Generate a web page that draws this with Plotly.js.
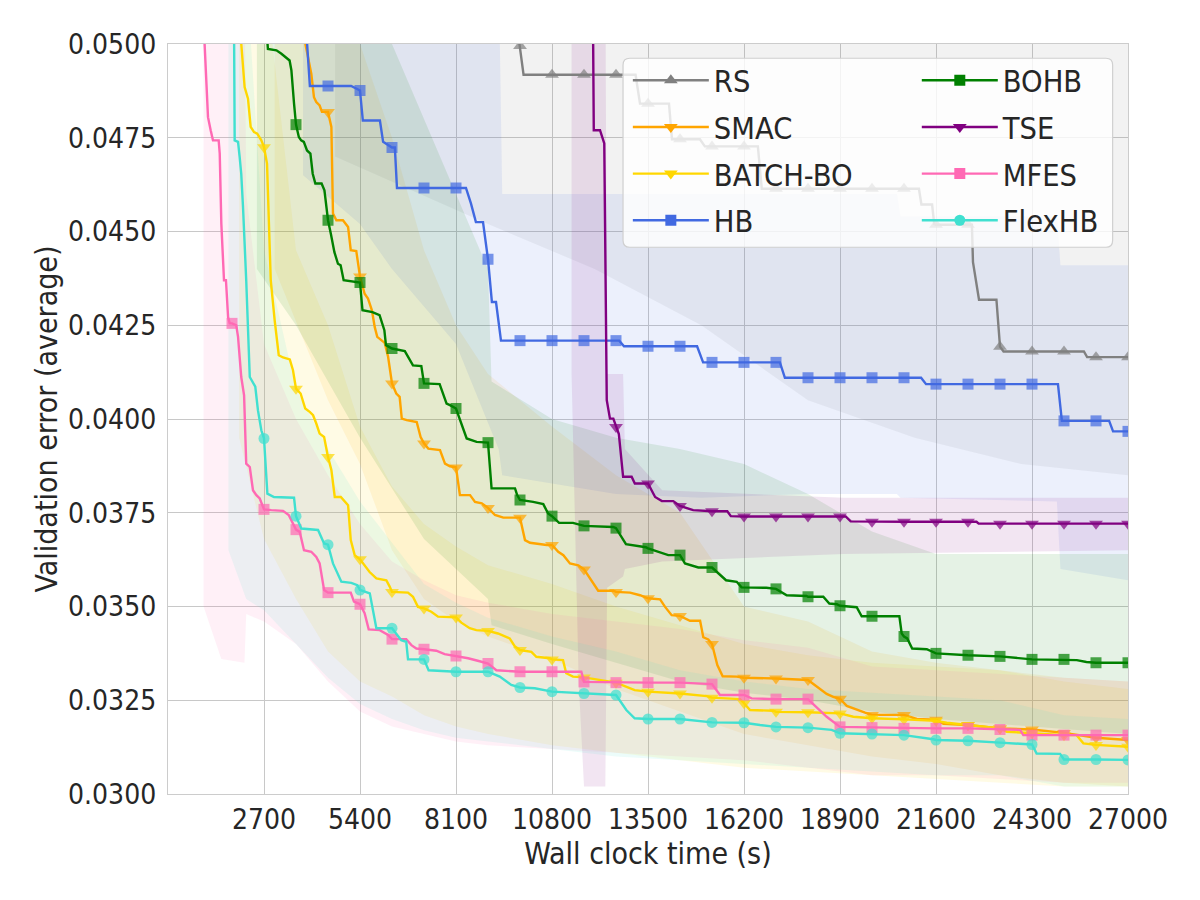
<!DOCTYPE html>
<html>
<head>
<meta charset="utf-8">
<script src="https://cdn.plot.ly/plotly-3.0.1.min.js"></script>
<style>html,body{margin:0;padding:0;background:#fff}#chart{width:1200px;height:900px}</style>
</head>
<body>
<div id="chart"></div>
<script>
// ---------- data (time in s, validation error) ----------
const xTickVals = [2700, 5400, 8100, 10800, 13500, 16200, 18900, 21600, 24300, 27000];
const yTickVals = [0.0300, 0.0325, 0.0350, 0.0375, 0.0400, 0.0425, 0.0450, 0.0475, 0.0500];
const methodNames = ['RS', 'SMAC', 'BATCH-BO', 'HB', 'BOHB', 'TSE', 'MFES', 'FlexHB'];
const markEvery = 900;

const rsCurve = [[9800,0.0506],[9900,0.04995],[10000,0.04918],[10800,0.04918],[11700,0.04918],[12600,0.04918],[13150,0.04918],[13275,0.04841],[13500,0.04841],[14090,0.04841],[14175,0.04746],[14400,0.04746],[14960,0.04746],[15100,0.04727],[15300,0.04727],[16200,0.04727],[16590,0.04727],[16700,0.04614],[17100,0.04614],[18000,0.04614],[18900,0.04614],[19800,0.04614],[20700,0.04614],[21120,0.04614],[21190,0.04572],[21490,0.04572],[21550,0.04520],[21600,0.04518],[22500,0.04518],[22610,0.04518],[22640,0.04418],[22810,0.04318],[23300,0.04318],[23400,0.04193],[23500,0.04180],[24300,0.04180],[25200,0.04180],[25760,0.04180],[25850,0.04165],[26100,0.04165],[27000,0.04165]];

const smacCurve = [[3780,0.0505],[3860,0.05002],[4030,0.04921],[4105,0.04858],[4170,0.04845],[4265,0.04836],[4330,0.04819],[4500,0.04819],[4595,0.04779],[4640,0.04548],[4735,0.04530],[4920,0.04530],[5065,0.04512],[5140,0.04450],[5295,0.04448],[5400,0.04380],[5530,0.04334],[5625,0.04321],[5735,0.04290],[5815,0.04245],[5885,0.04219],[6000,0.04210],[6095,0.04203],[6190,0.04166],[6265,0.04121],[6300,0.04095],[6420,0.04068],[6515,0.04059],[6575,0.04001],[6715,0.03997],[6995,0.03992],[7105,0.03952],[7200,0.03935],[7320,0.03921],[7650,0.03917],[7790,0.03881],[7930,0.03874],[8100,0.03871],[8210,0.03797],[8495,0.03797],[8635,0.03779],[8825,0.03775],[9000,0.03763],[9195,0.03744],[9430,0.03737],[9900,0.03737],[10040,0.03677],[10180,0.03670],[10650,0.03664],[10800,0.03664],[10975,0.03646],[11120,0.03637],[11305,0.03615],[11540,0.03610],[11700,0.03599],[11915,0.03570],[12100,0.03542],[12525,0.03542],[12600,0.03539],[12995,0.03537],[13275,0.03530],[13500,0.03522],[13840,0.03519],[13980,0.03499],[14165,0.03477],[14400,0.03475],[14680,0.03462],[14965,0.03462],[15055,0.03418],[15195,0.03412],[15300,0.03400],[15450,0.03344],[15600,0.03314],[15995,0.03313],[16200,0.03310],[17100,0.03308],[17775,0.03304],[18000,0.03304],[18525,0.03267],[18710,0.03259],[18900,0.03254],[19090,0.03235],[19605,0.03217],[19800,0.03211],[20700,0.03211],[21060,0.03200],[21600,0.03198],[21810,0.03187],[22500,0.03184],[23400,0.03175],[24300,0.03172],[25200,0.03163],[26100,0.03150],[27000,0.03144]];

const batchCurve = [[2020,0.0505],[2060,0.05002],[2155,0.04885],[2250,0.04854],[2325,0.04779],[2420,0.04765],[2510,0.04761],[2625,0.04743],[2700,0.04725],[2785,0.04681],[2830,0.04548],[2890,0.04370],[3000,0.04263],[3115,0.04170],[3235,0.04164],[3425,0.04159],[3515,0.04130],[3565,0.04099],[3600,0.04081],[3730,0.04068],[3795,0.04046],[3860,0.04028],[3985,0.04019],[4080,0.04010],[4170,0.03988],[4265,0.03961],[4390,0.03952],[4435,0.03930],[4500,0.03899],[4595,0.03864],[4690,0.03792],[4860,0.03792],[5065,0.03770],[5140,0.03677],[5250,0.03637],[5400,0.03626],[5530,0.03610],[5670,0.03592],[5860,0.03575],[6140,0.03570],[6235,0.03553],[6300,0.03539],[6750,0.03537],[6890,0.03526],[7030,0.03499],[7200,0.03495],[7405,0.03486],[7595,0.03473],[8100,0.03471],[8250,0.03457],[8485,0.03442],[8670,0.03437],[9000,0.03435],[9280,0.03428],[9610,0.03415],[9750,0.03394],[9900,0.03384],[10220,0.03379],[10360,0.03366],[10735,0.03362],[10800,0.03359],[11110,0.03357],[11200,0.03322],[11390,0.03313],[11700,0.03311],[12185,0.03304],[12600,0.03297],[13125,0.03277],[13500,0.03273],[14400,0.03268],[15150,0.03261],[15300,0.03257],[16090,0.03253],[16200,0.03242],[16370,0.03224],[17025,0.03222],[17100,0.03219],[18000,0.03218],[18900,0.03215],[19275,0.03206],[19800,0.03202],[20700,0.03199],[21600,0.03195],[21900,0.03190],[22500,0.03184],[23400,0.03175],[23590,0.03166],[24300,0.03162],[25200,0.03157],[25555,0.03157],[25745,0.03135],[26100,0.03131],[27000,0.03126]];

const hbCurve = [[3850,0.0509],[3990,0.04888],[4500,0.04888],[5150,0.04888],[5400,0.04876],[5480,0.04796],[5960,0.04796],[6050,0.04739],[6300,0.04724],[6380,0.04724],[6440,0.04616],[7200,0.04616],[8100,0.04616],[8380,0.04616],[8520,0.04575],[8660,0.04525],[8860,0.04525],[9000,0.04426],[9110,0.04312],[9225,0.04312],[9365,0.04209],[9900,0.04209],[10800,0.04209],[11700,0.04209],[12600,0.04209],[12690,0.04209],[12825,0.04194],[13500,0.04194],[14400,0.04194],[14880,0.04194],[15050,0.04151],[15300,0.04151],[16200,0.04151],[17100,0.04151],[17210,0.04151],[17350,0.04110],[18000,0.04110],[18900,0.04110],[19800,0.04110],[20700,0.04110],[21180,0.04110],[21320,0.04093],[21600,0.04093],[22500,0.04093],[23400,0.04093],[24300,0.04093],[25030,0.04093],[25140,0.03995],[25200,0.03995],[26100,0.03995],[26470,0.03995],[26580,0.03967],[27000,0.03967]];

const bohbCurve = [[2760,0.0505],[2810,0.04987],[3050,0.04983],[3190,0.04974],[3420,0.04956],[3470,0.04930],[3545,0.04841],[3600,0.04785],[3680,0.04752],[3745,0.04743],[3820,0.04739],[3910,0.04716],[4005,0.04708],[4070,0.04654],[4145,0.04628],[4320,0.04628],[4400,0.04610],[4450,0.04574],[4500,0.04530],[4580,0.04494],[4680,0.04445],[4780,0.04414],[4855,0.04410],[4940,0.04370],[5250,0.04365],[5400,0.04364],[5470,0.04290],[5750,0.04285],[5950,0.04277],[6085,0.04237],[6130,0.04197],[6300,0.04188],[6660,0.04181],[6890,0.04143],[7125,0.04141],[7200,0.04095],[7640,0.04093],[7835,0.04041],[7930,0.04037],[8100,0.04028],[8400,0.03948],[8680,0.03939],[9000,0.03937],[9100,0.03815],[9760,0.03815],[9820,0.03797],[9900,0.03784],[10270,0.03779],[10555,0.03773],[10690,0.03748],[10800,0.03741],[11000,0.03723],[11390,0.03723],[11700,0.03715],[12520,0.03712],[12600,0.03709],[12880,0.03666],[13070,0.03663],[13440,0.03658],[13500,0.03655],[13790,0.03646],[14070,0.03637],[14400,0.03637],[14540,0.03615],[14915,0.03604],[15300,0.03604],[15695,0.03570],[15995,0.03566],[16130,0.03551],[16200,0.03551],[16830,0.03550],[17100,0.03547],[17400,0.03530],[17960,0.03528],[18000,0.03526],[18430,0.03526],[18600,0.03508],[18810,0.03506],[18900,0.03502],[19370,0.03498],[19510,0.03474],[19800,0.03474],[20570,0.03474],[20635,0.03428],[20700,0.03420],[20790,0.03415],[20930,0.03388],[21340,0.03386],[21600,0.03375],[22500,0.03370],[23400,0.03367],[24300,0.03359],[25200,0.03359],[25560,0.03357],[25830,0.03352],[26100,0.03350],[27000,0.03350]];

const tseCurve = [[11950,0.0510],[11975,0.04770],[12150,0.04770],[12270,0.04735],[12340,0.04050],[12430,0.04001],[12525,0.04001],[12600,0.03979],[12680,0.03960],[12800,0.03846],[13040,0.03846],[13130,0.03828],[13500,0.03828],[13700,0.03792],[13890,0.03781],[14210,0.03781],[14400,0.03768],[14770,0.03757],[15300,0.03754],[15730,0.03754],[15830,0.03741],[16200,0.03740],[17100,0.03740],[18000,0.03740],[18900,0.03740],[19060,0.03740],[19200,0.03727],[19800,0.03726],[20700,0.03726],[21600,0.03726],[22500,0.03726],[22740,0.03726],[22800,0.03721],[23400,0.03721],[24300,0.03721],[25200,0.03721],[26100,0.03721],[27000,0.03721]];

const mfesCurve = [[1000,0.0506],[1030,0.05002],[1075,0.04876],[1125,0.04805],[1200,0.04770],[1265,0.04743],[1425,0.04743],[1455,0.04708],[1500,0.04521],[1575,0.04370],[1630,0.04370],[1690,0.04272],[1735,0.04255],[1800,0.04255],[1920,0.04250],[1970,0.04219],[2060,0.04112],[2140,0.04063],[2200,0.03881],[2300,0.03872],[2390,0.03810],[2485,0.03797],[2580,0.03788],[2700,0.03759],[2905,0.03757],[3235,0.03755],[3395,0.03744],[3600,0.03705],[3705,0.03699],[3825,0.03650],[4030,0.03646],[4170,0.03632],[4265,0.03615],[4390,0.03544],[4500,0.03537],[5140,0.03537],[5230,0.03513],[5400,0.03506],[5530,0.03482],[5645,0.03439],[5955,0.03437],[6190,0.03424],[6300,0.03413],[6700,0.03413],[6845,0.03397],[6985,0.03388],[7200,0.03386],[7545,0.03382],[7780,0.03373],[8100,0.03368],[8440,0.03362],[8765,0.03354],[9000,0.03348],[9235,0.03330],[9900,0.03326],[10800,0.03326],[11625,0.03326],[11700,0.03299],[12600,0.03297],[13500,0.03297],[14400,0.03297],[15300,0.03293],[15525,0.03264],[16200,0.03264],[16415,0.03255],[17100,0.03253],[18000,0.03253],[18525,0.03206],[18900,0.03179],[19800,0.03177],[20700,0.03175],[21600,0.03175],[22500,0.03175],[23400,0.03172],[23965,0.03171],[24055,0.03157],[24300,0.03157],[25200,0.03157],[26100,0.03157],[27000,0.03157]];

const flexCurve = [[1850,0.0506],[1860,0.05002],[1875,0.04743],[1970,0.04739],[2015,0.04699],[2060,0.04654],[2110,0.04565],[2155,0.04477],[2200,0.04370],[2300,0.04112],[2455,0.04086],[2530,0.04023],[2625,0.03970],[2700,0.03948],[2795,0.03801],[2980,0.03792],[3545,0.03790],[3600,0.03741],[3750,0.03708],[4220,0.03704],[4390,0.03668],[4500,0.03665],[4640,0.03615],[4875,0.03566],[5155,0.03563],[5325,0.03557],[5400,0.03544],[5675,0.03535],[5860,0.03442],[6300,0.03442],[6560,0.03410],[6700,0.03406],[6750,0.03359],[7200,0.03359],[7330,0.03330],[8100,0.03326],[9000,0.03326],[9330,0.03313],[9655,0.03291],[9900,0.03284],[10315,0.03282],[10800,0.03273],[11700,0.03268],[12600,0.03264],[12890,0.03224],[13125,0.03202],[13500,0.03200],[14400,0.03200],[15300,0.03191],[16200,0.03190],[16650,0.03184],[17100,0.03179],[18000,0.03177],[18665,0.03171],[18900,0.03162],[19800,0.03160],[20700,0.03157],[21525,0.03146],[21600,0.03144],[22500,0.03142],[23210,0.03137],[23400,0.03137],[24300,0.03132],[24430,0.03108],[25090,0.03107],[25200,0.03092],[26100,0.03092],[27000,0.03091]];

// spread bands: [time, lower, upper]
const rsBand = [[4700,0.0470,0.052],[9000,0.0452,0.052],[12000,0.0440,0.052],[15000,0.0425,0.052],[18000,0.0405,0.052],[21000,0.0395,0.052],[24000,0.0388,0.052],[27000,0.0385,0.052]];
const hbBand = [[3800,0.0465,0.052],[5400,0.0452,0.052],[6300,0.0440,0.052],[8100,0.0420,0.052],[9300,0.0392,0.052],[9400,0.0385,0.0460],[12600,0.0380,0.0460],[15000,0.0379,0.0460],[18000,0.0380,0.0460],[20500,0.0380,0.0460],[20600,0.0379,0.0454],[25000,0.0378,0.0454],[25100,0.0360,0.0441],[27000,0.0357,0.0441]];
const tseBand = [[11350,0.0412,0.052],[11550,0.0330,0.052],[11700,0.0302,0.052],[12300,0.0302,0.052],[12350,0.0355,0.0412],[12800,0.0358,0.0412],[12850,0.0360,0.0392],[13900,0.0362,0.0381],[19000,0.0364,0.0379],[27000,0.0365,0.0379]];
const bohbBand = [[2500,0.0440,0.052],[3600,0.0425,0.052],[5400,0.0395,0.052],[7200,0.0368,0.0480],[8100,0.0360,0.0460],[9000,0.0352,0.0440],[9100,0.0345,0.0410],[10800,0.0340,0.0400],[12600,0.0335,0.0395],[14400,0.0330,0.0392],[16200,0.0327,0.0388],[18000,0.0325,0.0380],[19800,0.0322,0.0370],[21600,0.0320,0.0364],[24300,0.0318,0.0364],[27000,0.0316,0.0364]];
const smacBand = [[3000,0.0440,0.052],[4500,0.0405,0.052],[5400,0.0388,0.0500],[6300,0.0365,0.0475],[7200,0.0352,0.0445],[8100,0.0346,0.0425],[9000,0.0342,0.0412],[10800,0.0336,0.0398],[12600,0.0328,0.0385],[14400,0.0322,0.0375],[16200,0.0316,0.0350],[18000,0.0313,0.0346],[19800,0.0310,0.0338],[21600,0.0308,0.0335],[23400,0.0305,0.0333],[25200,0.0303,0.0331],[27000,0.0302,0.0330]];
const batchBand = [[2000,0.0395,0.052],[2700,0.0368,0.052],[3600,0.0352,0.0445],[4500,0.0338,0.0425],[5400,0.0330,0.0398],[6300,0.0326,0.0382],[7200,0.0321,0.0372],[8100,0.0318,0.0366],[9000,0.0316,0.0361],[10800,0.0313,0.0356],[12600,0.0311,0.0350],[14400,0.0309,0.0345],[16200,0.0307,0.0340],[18000,0.0306,0.0337],[19800,0.0305,0.0335],[21600,0.0304,0.0334],[23400,0.0303,0.0333],[25200,0.0302,0.0330],[27000,0.0302,0.0328]];
const mfesBand = [[1000,0.0350,0.052],[1500,0.0336,0.052],[2150,0.0335,0.052],[2200,0.0348,0.0460],[2700,0.0346,0.0420],[3600,0.0340,0.0400],[4500,0.0330,0.0385],[5400,0.0322,0.0372],[6300,0.0318,0.0362],[7200,0.0316,0.0357],[8100,0.0314,0.0353],[9000,0.0313,0.0351],[10800,0.0312,0.0348],[12600,0.0311,0.0346],[14400,0.0310,0.0344],[16200,0.0309,0.0341],[18000,0.0307,0.0339],[19800,0.0305,0.0334],[21600,0.0305,0.0333],[23400,0.0304,0.0332],[25200,0.0303,0.0331],[27000,0.0303,0.0330]];
const flexBand = [[1700,0.0365,0.052],[2200,0.0352,0.052],[2700,0.0349,0.0445],[3600,0.0340,0.0408],[4500,0.0331,0.0392],[5400,0.0324,0.0378],[6300,0.0320,0.0367],[7200,0.0317,0.0356],[8100,0.0315,0.0351],[9000,0.0314,0.0347],[10800,0.0312,0.0342],[12600,0.0310,0.0338],[14400,0.0309,0.0333],[16200,0.0308,0.0330],[18000,0.0307,0.0328],[19800,0.0306,0.0327],[21600,0.0305,0.0326],[23400,0.0305,0.0325],[25200,0.0302,0.0321],[27000,0.0302,0.0320]];

// ---------- styles ----------
const styles = {
  'RS':       {curve: rsCurve,    band: rsBand,    color: [128,128,128], symbol: 'triangle-up',   size: 12, legend: 'legend'},
  'SMAC':     {curve: smacCurve,  band: smacBand,  color: [255,165,0],   symbol: 'triangle-down', size: 12, legend: 'legend'},
  'BATCH-BO': {curve: batchCurve, band: batchBand, color: [255,215,0],   symbol: 'triangle-down', size: 12, legend: 'legend'},
  'HB':       {curve: hbCurve,    band: hbBand,    color: [65,105,225],  symbol: 'square',        size: 11, legend: 'legend'},
  'BOHB':     {curve: bohbCurve,  band: bohbBand,  color: [0,128,0],     symbol: 'square',        size: 11, legend: 'legend2'},
  'TSE':      {curve: tseCurve,   band: tseBand,   color: [128,0,128],   symbol: 'triangle-down', size: 12, legend: 'legend2'},
  'MFES':     {curve: mfesCurve,  band: mfesBand,  color: [255,105,180], symbol: 'square',        size: 11, legend: 'legend2'},
  'FlexHB':   {curve: flexCurve,  band: flexBand,  color: [64,224,208],  symbol: 'circle',        size: 11, legend: 'legend2'}
};
const rgba = (c, a) => `rgba(${c[0]},${c[1]},${c[2]},${a})`;

const FONT = {family: 'DejaVu Sans Condensed, DejaVu Sans, sans-serif', color: '#262626', stretch: 'condensed'};

const traces = [];
// bands first
methodNames.forEach(name => {
  const s = styles[name];
  const bx = s.band.map(r => r[0]);
  const up = s.band.map(r => r[2]);
  const lo = s.band.map(r => r[1]);
  traces.push({
    type: 'scatter', mode: 'lines',
    x: bx.concat(bx.slice().reverse()),
    y: up.concat(lo.slice().reverse()),
    fill: 'toself', fillcolor: rgba(s.color, 0.1),
    line: {width: 0, color: rgba(s.color, 0)},
    hoverinfo: 'skip', showlegend: false
  });
});
// mean curves with markers every 900 s
methodNames.forEach(name => {
  const s = styles[name];
  const xs = s.curve.map(p => p[0]);
  const ys = s.curve.map(p => p[1]);
  traces.push({
    type: 'scatter', mode: 'lines+markers', name: name,
    x: xs, y: ys,
    line: {color: rgba(s.color, 1), width: 2.4},
    marker: {symbol: s.symbol, color: rgba(s.color, 1),
             size: xs.map(t => (t % markEvery === 0 ? s.size : 0)), line: {width: 0}},
    showlegend: false, hoverinfo: 'x+y'
  });
});
// legend entries
methodNames.forEach((name, i) => {
  const s = styles[name];
  traces.push({
    type: 'scatter', mode: 'lines+markers', name: name,
    x: [null], y: [null],
    line: {color: rgba(s.color, 1), width: 2.4},
    marker: {symbol: s.symbol, color: rgba(s.color, 1), size: s.size, line: {width: 0}},
    legend: s.legend, legendgroup: 'g' + i, showlegend: true
  });
});

// legend frame (rounded rectangle, paper coords)
const box = {x0: 0.474, x1: 0.984, y0: 0.729, y1: 0.981, rx: 0.007, ry: 0.009};
const boxPath = `M${box.x0 + box.rx},${box.y0} L${box.x1 - box.rx},${box.y0} Q${box.x1},${box.y0} ${box.x1},${box.y0 + box.ry} ` +
  `L${box.x1},${box.y1 - box.ry} Q${box.x1},${box.y1} ${box.x1 - box.rx},${box.y1} L${box.x0 + box.rx},${box.y1} ` +
  `Q${box.x0},${box.y1} ${box.x0},${box.y1 - box.ry} L${box.x0},${box.y0 + box.ry} Q${box.x0},${box.y0} ${box.x0 + box.rx},${box.y0} Z`;

const legendCommon = {
  bgcolor: 'rgba(0,0,0,0)', borderwidth: 0, font: Object.assign({}, FONT, {size: 30.5}),
  itemwidth: 76, yanchor: 'top', xanchor: 'left', tracegroupgap: 4, traceorder: 'grouped',
  itemclick: false, itemdoubleclick: false
};

const layout = {
  width: 1200, height: 900,
  margin: {l: 168, r: 72, t: 44, b: 106},
  paper_bgcolor: '#ffffff', plot_bgcolor: '#ffffff',
  font: FONT,
  xaxis: {
    range: [0, 27000], autorange: false,
    tickmode: 'array', tickvals: xTickVals, ticktext: xTickVals.map(String),
    showgrid: true, gridcolor: '#c8c8c8', gridwidth: 1,
    zeroline: false, showline: true, mirror: true, linecolor: '#cccccc', linewidth: 1.2,
    ticks: '', ticklabelstandoff: 0,
    tickfont: Object.assign({}, FONT, {size: 28}),
    title: {text: 'Wall clock time (s)', font: Object.assign({}, FONT, {size: 30}), standoff: 4}
  },
  yaxis: {
    range: [0.03, 0.05], autorange: false,
    tickmode: 'array', tickvals: yTickVals, ticktext: yTickVals.map(v => v.toFixed(4)),
    showgrid: true, gridcolor: '#c8c8c8', gridwidth: 1,
    zeroline: false, showline: true, mirror: true, linecolor: '#cccccc', linewidth: 1.2,
    ticks: '', ticklabelstandoff: 5,
    tickfont: Object.assign({}, FONT, {size: 28}),
    title: {text: 'Validation error (average)', font: Object.assign({}, FONT, {size: 30}), standoff: 1}
  },
  legend: Object.assign({}, legendCommon, {x: 0.479, y: 0.9867}),
  legend2: Object.assign({}, legendCommon, {x: 0.780, y: 0.9867}),
  shapes: [{
    type: 'path', xref: 'paper', yref: 'paper', path: boxPath,
    fillcolor: 'rgba(255,255,255,0.8)', line: {color: '#d0d0d0', width: 1.2}, layer: 'above'
  }],
  showlegend: true
};

Plotly.newPlot('chart', traces, layout, {staticPlot: true, displayModeBar: false});
</script>
</body>
</html>
